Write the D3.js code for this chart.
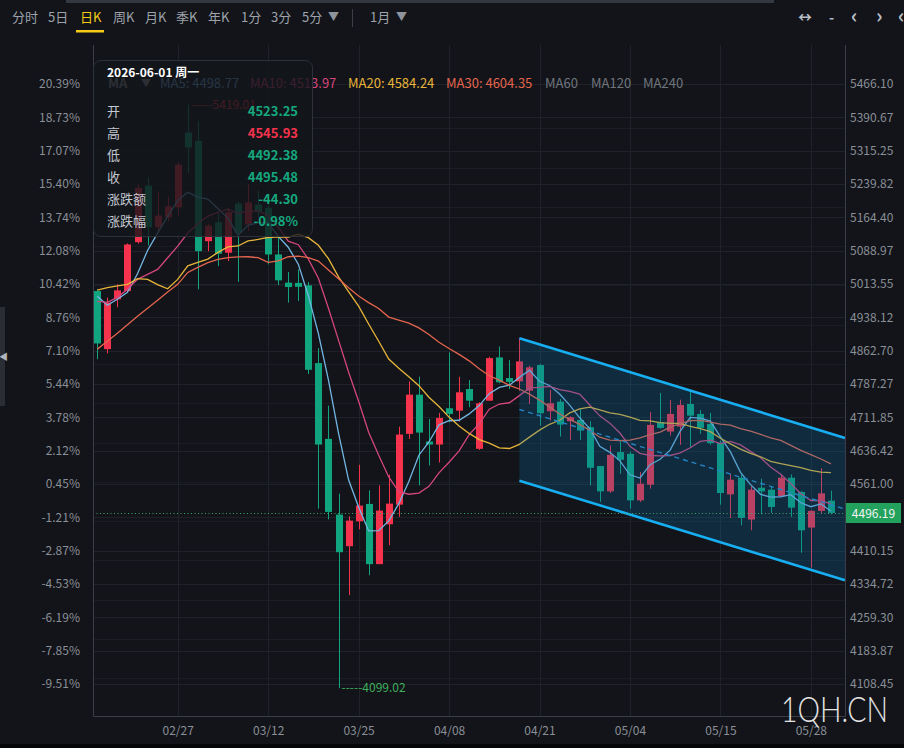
<!DOCTYPE html>
<html><head><meta charset="utf-8">
<script src="https://cdn.jsdelivr.net/npm/d3@7/dist/d3.min.js"></script>
<style>
html,body{margin:0;padding:0;background:#121419;}
svg{display:block;font-family:"Noto Sans CJK SC","Noto Sans",sans-serif;}
</style></head><body>
<svg id="c" width="904" height="748"></svg>
<script>
// ---------------- DATA ----------------
const dates = [
"2026-02-17","2026-02-18","2026-02-19","2026-02-20","2026-02-23","2026-02-24","2026-02-25","2026-02-26","2026-02-27",
"2026-03-02","2026-03-03","2026-03-04","2026-03-05","2026-03-06","2026-03-09","2026-03-10","2026-03-11","2026-03-12",
"2026-03-13","2026-03-16","2026-03-17","2026-03-18","2026-03-19","2026-03-20","2026-03-23","2026-03-24","2026-03-25",
"2026-03-26","2026-03-27","2026-03-30","2026-03-31","2026-04-01","2026-04-02","2026-04-06","2026-04-07","2026-04-08",
"2026-04-09","2026-04-10","2026-04-13","2026-04-14","2026-04-15","2026-04-16","2026-04-17","2026-04-20","2026-04-21",
"2026-04-22","2026-04-23","2026-04-24","2026-04-27","2026-04-28","2026-04-29","2026-04-30","2026-05-01","2026-05-04",
"2026-05-05","2026-05-06","2026-05-07","2026-05-08","2026-05-11","2026-05-12","2026-05-13","2026-05-14","2026-05-15",
"2026-05-18","2026-05-19","2026-05-20","2026-05-21","2026-05-22","2026-05-25","2026-05-26","2026-05-27","2026-05-28",
"2026-05-29","2026-06-01"];
const opens = [
4997.6,4866.2,4978.9,4997.6,5108.2,5236.1,5142.0,5164.5,5187.1,
5356.3,5337.5,5110.4,5153.3,5084.3,5195.5,5148.1,5193.2,5185.8,
5080.4,5016.6,5016.0,5010.5,4834.6,4663.2,4491.8,4420.3,4476.6,
4515.9,4379.7,4469.9,4514.3,4674.4,4763.1,4657.1,4650.3,4732.4,
4727.0,4775.9,4640.6,4749.5,4847.4,4800.7,4793.3,4772.1,4830.1,
4725.6,4747.3,4703.1,4706.0,4689.6,4601.6,4544.3,4633.2,4629.3,
4524.0,4559.4,4700.8,4679.6,4690.9,4742.1,4719.5,4697.0,4654.2,
4537.5,4575.2,4480.5,4552.6,4548.1,4533.9,4575.2,4543.0,4462.4,
4500.1,4523.25];
const highs = [
5001.5,4982.8,5012.8,5105.2,5238.3,5254.1,5223.2,5211.0,5287.9,
5419.01,5381.1,5150.3,5172.9,5185.8,5200.0,5239.9,5224.8,5193.2,
5119.4,5040.5,5046.6,5017.9,4868.4,4738.3,4539.1,4487.9,4604.5,
4546.6,4557.8,4582.0,4690.9,4793.3,4803.7,4708.3,4721.8,4858.7,
4803.7,4796.2,4746.0,4848.8,4872.2,4841.3,4891.0,4828.5,4832.3,
4773.7,4753.4,4714.0,4730.8,4703.1,4601.6,4648.1,4660.9,4633.8,
4588.1,4724.1,4766.9,4751.1,4751.8,4772.1,4728.6,4721.8,4659.0,
4584.2,4582.0,4555.6,4572.9,4555.0,4582.6,4582.6,4545.0,4502.0,
4597.1,4545.93];
const lows = [
4843.6,4856.5,4960.9,4994.7,5105.0,5100.7,5130.0,5155.0,5169.5,
5264.7,5001.5,5087.9,5054.0,5065.3,5018.4,5133.0,5163.9,5057.9,
5011.2,4971.5,4975.1,4809.8,4505.3,4481.2,4099.02,4309.7,4458.6,
4354.8,4379.7,4422.5,4486.6,4663.2,4557.8,4602.9,4609.7,4700.8,
4702.2,4734.7,4638.0,4749.5,4789.0,4775.9,4772.1,4742.1,4693.2,
4704.4,4668.4,4660.9,4660.9,4557.8,4520.4,4541.0,4584.2,4505.3,
4520.4,4550.4,4686.0,4670.6,4649.6,4644.4,4674.4,4649.6,4514.3,
4484.3,4467.6,4456.3,4492.4,4495.6,4532.0,4486.6,4405.4,4371.5,
4494.0,4492.38];
const closes = [
4879.0,4971.5,4999.2,5103.0,5230.9,5142.0,5168.4,5189.4,5283.4,
5322.4,5087.9,5145.8,5082.0,5175.8,5129.4,5198.4,5176.3,5080.4,
5021.8,5006.7,5007.2,4819.5,4650.3,4497.8,4406.7,4478.2,4512.1,
4379.7,4500.8,4516.6,4672.9,4763.1,4677.4,4650.3,4710.5,4719.5,
4768.5,4749.5,4743.7,4845.9,4791.1,4792.0,4838.4,4824.9,4721.1,
4743.7,4695.4,4712.1,4681.9,4597.8,4544.3,4627.1,4615.8,4524.0,
4561.7,4694.7,4688.0,4719.5,4739.9,4715.7,4688.0,4653.5,4540.7,
4570.7,4484.3,4548.1,4544.3,4509.1,4575.2,4507.5,4456.3,4500.1,
4539.78,4495.48];
// moving-average values before a full window exists
const ma5Head  = [4985.7,4965.4,4978.9,4994.7];
const ma10Head = [4974.4,4972.1,4983.4,5001.5,5024.0,5035.3,5046.6,5073.0,5099.1];
const ma20Head = [4999.9,5005.3,5009.4,5012.8,5025.6,5024.0,5012.1,5002.6,5024.0,5054.5,
                  5062.4,5069.9,5085.0,5097.4,5099.6,5110.9,5114.3,5118.8,5120.4];
const ma30Head = [4866.2,4884.2,4902.2,4921.4,4940.6,4958.6,4976.7,4995.4,5012.8,5039.8,
                  5051.1,5061.7,5069.1,5073.0,5074.8,5075.2,5073.0,5062.4,5065.8,5075.2,
                  5076.7,5073.0,5065.4,5045.1,5025.6,5005.3,4986.4,4971.5,4958.0];
const maNames  = ["MA5","MA10","MA20","MA30"];
const maLegend = ["4498.77","4513.97","4584.24","4604.35"];
const maExtra  = ["MA60","MA120","MA240"];
const priceTicks = [5466.10,5390.67,5315.25,5239.82,5164.40,5088.97,5013.55,4938.12,4862.70,4787.27,
                    4711.85,4636.42,4561.00,4485.57,4410.15,4334.72,4259.30,4183.87,4108.45];
const pctTicks = ["20.39%","18.73%","17.07%","15.40%","13.74%","12.08%","10.42%","8.76%","7.10%","5.44%",
                  "3.78%","2.12%","0.45%","-1.21%","-2.87%","-4.53%","-6.19%","-7.85%","-9.51%"];
// secondary faint grid levels seen behind the chart
const subGrid = [5365.9,5277.0,5188.1,5099.2,5010.3,4921.4,4832.5,4743.6,4654.7,4565.8,4476.9,4388.0,4299.1,4210.2,4121.3];
const dateTicks = ["02/27","03/12","03/25","04/08","04/21","05/04","05/15","05/28"];
const lastPrice = 4496.19;
const prevClose = 4539.78;
const tipLabels = ["开","高","低","收","涨跌额","涨跌幅"];
const tipValues = ["4523.25","4545.93","4492.38","4495.48","-44.30","-0.98%"];
const tipTitle = "2026-06-01 周一";
// trend channel drawn on the chart (bar index, prices)
const channelStartIdx = 42;
const channelTop = 4890.7, channelBottom = 4568.5, channelSlope = -6.96;
const toolbarItems = ["分时","5日","日K","周K","月K","季K","年K","1分","3分","5分"];

// ---------------- DRAW ----------------
const W=904,H=748;
const plot={l:93,r:845,t:45,b:716};
const UP="#f6334d", DN="#10a47f";
const maColors=["#74b6e3","#d4467c","#e8b53a","#e4654e"];
const svg=d3.select("#c");
svg.append("rect").attr("width",W).attr("height",H).attr("fill","#121419");
svg.append("rect").attr("x",66).attr("y",0).attr("width",708).attr("height",3).attr("fill","#33373f");
svg.append("rect").attr("x",0).attr("y",744).attr("width",W).attr("height",4).attr("fill","#050607");

const n=dates.length;
const x=d3.scaleLinear().domain([0,n-1]).range([97.3,97.3+(n-1)*10.05]);
const y=d3.scaleLinear().domain([4108.45,5466.10]).range([684,84]);
const fmtD=d=>d.slice(5).replace("-","/");
const tickIdx=dateTicks.map(t=>dates.findIndex(d=>fmtD(d)===t));

// grid
const grid=svg.append("g");
grid.selectAll("line.s").data(subGrid).join("line").attr("class","s")
  .attr("x1",plot.l).attr("x2",plot.r)
  .attr("y1",d=>Math.round(y(d))+0.5).attr("y2",d=>Math.round(y(d))+0.5)
  .attr("stroke","#1a1d23");
grid.selectAll("line.h").data(priceTicks).join("line").attr("class","h")
  .attr("x1",plot.l).attr("x2",plot.r)
  .attr("y1",d=>Math.round(y(d))+0.5).attr("y2",d=>Math.round(y(d))+0.5)
  .attr("stroke","#1f2229");
grid.selectAll("line.v").data(tickIdx).join("line").attr("class","v")
  .attr("x1",d=>Math.round(x(d))+0.5).attr("x2",d=>Math.round(x(d))+0.5)
  .attr("y1",plot.t).attr("y2",plot.b).attr("stroke","#1f2229");

// candles
const cg=svg.append("g");
const idx=d3.range(n);
cg.selectAll("line").data(idx).join("line")
  .attr("x1",i=>Math.round(x(i))+0.5).attr("x2",i=>Math.round(x(i))+0.5)
  .attr("y1",i=>y(highs[i])).attr("y2",i=>y(lows[i]))
  .attr("stroke",i=>closes[i]>=opens[i]?UP:DN).attr("stroke-width",1);
cg.selectAll("rect").data(idx).join("rect")
  .attr("x",i=>Math.round(x(i))-3).attr("width",7)
  .attr("y",i=>y(Math.max(opens[i],closes[i])))
  .attr("height",i=>Math.max(1.5,Math.abs(y(opens[i])-y(closes[i]))))
  .attr("fill",i=>closes[i]>=opens[i]?UP:DN);

// moving averages
function ma(p,head){return closes.map((c,i)=>i<p-1?head[i]:d3.mean(closes.slice(i-p+1,i+1)));}
const maSeries=[ma(5,ma5Head),ma(10,ma10Head),ma(20,ma20Head),ma(30,ma30Head)];
const line=d3.line().x((d,i)=>x(i)).y(d=>y(d));
svg.append("g").selectAll("path").data(maSeries).join("path")
  .attr("d",line).attr("fill","none").attr("stroke",(d,i)=>maColors[i]).attr("stroke-width",1.3);

// channel
const chEnd=x.invert(plot.r);
const chX0=x(channelStartIdx), chX1=plot.r;
const dI=chEnd-channelStartIdx;
const tY0=y(channelTop), tY1=y(channelTop+channelSlope*dI);
const bY0=y(channelBottom), bY1=y(channelBottom+channelSlope*dI);
const mid=(channelTop+channelBottom)/2;
svg.append("path").attr("d",`M${chX0},${tY0}L${chX1},${tY1}L${chX1},${bY1}L${chX0},${bY0}Z`)
  .attr("fill","rgba(10,112,165,0.26)");
svg.append("line").attr("x1",chX0).attr("y1",y(mid)).attr("x2",chX1).attr("y2",y(mid+channelSlope*dI))
  .attr("stroke","#2385c4").attr("stroke-width",1.4).attr("stroke-dasharray","5,4");
[[tY0,tY1],[bY0,bY1]].forEach(([a,b])=>{
  svg.append("line").attr("x1",chX0).attr("y1",a).attr("x2",chX1).attr("y2",b)
    .attr("stroke","#18aef2").attr("stroke-width",2.6);
});

// last price dotted line
svg.append("line").attr("x1",plot.l).attr("x2",plot.r)
  .attr("y1",Math.round(y(lastPrice))+0.5).attr("y2",Math.round(y(lastPrice))+0.5)
  .attr("stroke","#3aa864").attr("stroke-dasharray","1,2.5");

// high / low markers
const hiI=d3.maxIndex(highs), loI=d3.minIndex(lows);
svg.append("text").attr("x",x(hiI)+4).attr("y",y(highs[hiI])+4).attr("font-size",12)
  .attr("fill",UP).text("-----"+highs[hiI].toFixed(2));
svg.append("text").attr("x",x(loI)+3).attr("y",y(lows[loI])+4).attr("font-size",12)
  .attr("fill","#3fae5b").text("-----"+lows[loI].toFixed(2));

// frame
svg.append("path").attr("d",`M${plot.l+0.5},${plot.t}V${plot.b+0.5}H${plot.r+0.5}V${plot.t}`)
  .attr("fill","none").attr("stroke","#3a3e46");

// legend row
const lg=svg.append("g").attr("font-size",13);
lg.append("text").attr("x",108).attr("y",88).attr("fill","#8d929a").attr("font-weight","bold").text("MA");
lg.append("text").attr("x",141).attr("y",87).attr("fill","#8d929a").attr("font-size",10).text("▼");
const legX=[160,250,348,446];
maNames.forEach((m,i)=>lg.append("text").attr("x",legX[i]).attr("y",88).attr("fill",maColors[i])
  .text(m+": "+maLegend[i]));
[545,591,643].forEach((px,i)=>lg.append("text").attr("x",px).attr("y",88).attr("fill","#70757d").text(maExtra[i]));

// tooltip
svg.append("rect").attr("x",93.5).attr("y",60.5).attr("width",219).attr("height",176).attr("rx",7)
  .attr("fill","rgba(19,21,26,0.8)").attr("stroke","#2d3139");
svg.append("text").attr("x",107).attr("y",77).attr("fill","#ffffff").attr("font-size",12).attr("font-weight","bold").text(tipTitle);
const tipNums=[opens[n-1],highs[n-1],lows[n-1],closes[n-1],closes[n-1]-prevClose,closes[n-1]-prevClose];
tipLabels.forEach((l,i)=>{
  const yy=116+i*22;
  svg.append("text").attr("x",107).attr("y",yy).attr("fill","#c3c7ce").attr("font-size",13).text(l);
  svg.append("text").attr("x",298).attr("y",yy).attr("text-anchor","end").attr("font-size",13).attr("font-weight","bold")
    .attr("fill",(i<4?tipNums[i]>prevClose:tipNums[i]>0)?UP:"#15a87f").text(tipValues[i]);
});

// axes (the right label under the last-price tag is hidden, as in the original)
const ty=Math.round(y(lastPrice));
const visTicks=priceTicks.filter(d=>Math.abs(y(d)-ty)>=12);
const axR=svg.append("g").attr("transform",`translate(${plot.r+5},0)`)
  .call(d3.axisRight(y).tickValues(visTicks).tickSize(0).tickFormat(d3.format(".2f")));
const axL=svg.append("g").attr("transform",`translate(${plot.l-10},0)`)
  .call(d3.axisLeft(y).tickValues(priceTicks).tickSize(0).tickFormat((d,i)=>pctTicks[i]));
const axB=svg.append("g").attr("transform",`translate(0,${plot.b})`)
  .call(d3.axisBottom(x).tickValues(tickIdx).tickSize(0).tickFormat(i=>fmtD(dates[i])));
[axR,axL,axB].forEach(a=>{a.select(".domain").remove();
  a.selectAll("text").attr("fill","#8a8f97").attr("font-size",12).attr("font-family","Noto Sans CJK SC, Noto Sans, sans-serif");});
axR.selectAll("text").attr("x",0);
axB.selectAll("text").attr("dy","1.35em");

// last price tag
svg.append("rect").attr("x",846).attr("y",ty-10).attr("width",55).attr("height",20).attr("fill","#23a25e");
svg.append("text").attr("x",873.5).attr("y",ty+4.5).attr("text-anchor","middle").attr("font-size",12)
  .attr("fill","#f2f5f3").text(lastPrice.toFixed(2));

// toolbar
const tbX=[12,48,80,113,145,176,208,241,271,302];
toolbarItems.forEach((t,i)=>svg.append("text").attr("x",tbX[i]).attr("y",22).attr("font-size",13)
  .attr("fill",t==="日K"?"#f5cc16":"#9ea3ab").text(t));
svg.append("rect").attr("x",76).attr("y",30).attr("width",28).attr("height",2.5).attr("fill","#f5cc16");
svg.append("text").attr("x",328).attr("y",21).attr("font-size",11).attr("fill","#8f949c").text("▼");
svg.append("rect").attr("x",352).attr("y",9).attr("width",1).attr("height",18).attr("fill","#3a3e46");
svg.append("text").attr("x",370).attr("y",22).attr("font-size",13).attr("fill","#9ea3ab").text("1月");
svg.append("text").attr("x",396).attr("y",21).attr("font-size",11).attr("fill","#8f949c").text("▼");
[["↔",798],["-",829],["‹",851],["›",876],["‹",898]].forEach(([t,px])=>
  svg.append("text").attr("x",px).attr("y",t==="↔"?22:23).attr("font-size",t==="↔"||t==="-"?14:20)
   .attr("font-weight","bold").attr("fill","#b9bec6").text(t));

// left collapse handle
svg.append("rect").attr("x",0).attr("y",307).attr("width",5).attr("height",99).attr("fill","#2a2d34");
svg.append("text").attr("x",-1).attr("y",360).attr("font-size",9).attr("fill","#b0b4bb").text("◀");

// watermark
svg.append("text").attr("x",781).attr("y",722).attr("font-size",35).attr("font-family","Lato, Noto Sans, sans-serif")
  .attr("font-weight",300).attr("fill","#e3e3e3").attr("textLength",107).attr("lengthAdjust","spacingAndGlyphs").text("1QH.CN");
</script>
</body></html>
